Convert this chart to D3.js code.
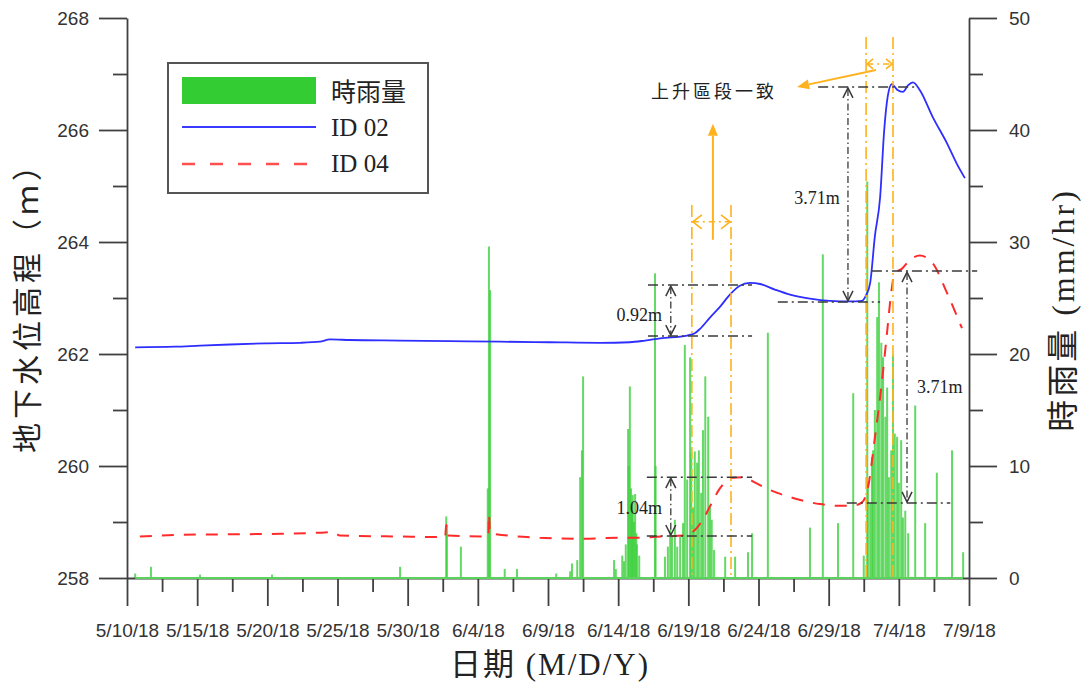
<!DOCTYPE html>
<html><head><meta charset="utf-8">
<script src="https://cdn.jsdelivr.net/npm/d3@7"></script>
<style>body{margin:0;background:#fff} svg{display:block}</style>
</head><body>
<svg id="c" width="1081" height="684"></svg>
<script>
// ---------- data ----------
const xTickLabels = ["5/10/18","5/15/18","5/20/18","5/25/18","5/30/18","6/4/18","6/9/18","6/14/18","6/19/18","6/24/18","6/29/18","7/4/18","7/9/18"];
const yLeftTicks = [258,260,262,264,266,268];
const yLeftMinor = [259,261,263,265,267];
const yRightTicks = [0,10,20,30,40,50];
const yRightMinor = [5,15,25,35,45];

const rainTime = ["5/10 14","5/11 17","5/15 05","5/20 08","5/29 11","6/1 18","6/1 19","6/2 19","6/4 17","6/4 19","6/4 21","6/5 22","6/6 19","6/9 14","6/10 14","6/10 17","6/11 02","6/11 07","6/11 10","6/11 12","6/13 17","6/13 20","6/14 07","6/14 10","6/14 13","6/14 17","6/14 18","6/14 20","6/14 22","6/15 00","6/15 01","6/15 03","6/15 05","6/15 07","6/15 08","6/15 12","6/16 15","6/16 16","6/17 08","6/17 13","6/17 17","6/17 20","6/18 01","6/18 05","6/18 10","6/18 15","6/18 18","6/18 22","6/19 03","6/19 05","6/19 08","6/19 11","6/19 15","6/19 18","6/19 22","6/20 01","6/20 05","6/20 10","6/20 13","6/20 16","6/20 20","6/21 15","6/22 08","6/23 06","6/23 13","6/24 16","6/27 16","6/28 14","6/29 16","6/30 18","7/1 12","7/1 18","7/1 19","7/1 23","7/2 02","7/2 04","7/2 07","7/2 11","7/2 14","7/2 18","7/2 21","7/3 01","7/3 04","7/3 07","7/3 11","7/3 14","7/3 17","7/3 21","7/4 00","7/4 04","7/4 07","7/4 11","7/4 16","7/5 04","7/5 21","7/6 17","7/7 19","7/8 14"];
const rainValue = [0.4,1.0,0.3,0.3,1.0,5.5,4.7,2.8,8.0,29.6,25.7,0.8,0.8,0.4,0.6,1.3,1.6,9.0,11.4,18.0,1.6,0.8,2.0,1.5,3.0,13.3,10.0,17.1,8.0,6.0,7.4,5.0,7.5,4.0,3.0,2.0,27.2,10.0,1.9,2.8,4.3,3.7,5.2,2.8,3.7,4.9,20.8,8.8,19.7,11.2,6.3,11.3,10.3,11.4,7.6,13.2,18.0,14.4,6.3,5.2,2.5,1.9,1.9,2.3,4.0,21.9,4.5,28.9,4.9,16.5,2.0,35.4,8.5,6.7,10.8,11.4,15.0,23.3,26.4,21.0,19.7,14.4,17.0,9.0,11.4,19.9,12.9,12.6,8.5,12.3,5.4,6.0,4.0,15.4,4.9,9.4,11.4,2.3];

const id02Time = ["5/10 14","5/13 10","5/15 05","5/17 08","5/19 20","5/22 08","5/23 18","5/24 11","5/25 21","5/29 11","6/2 00","6/5 14","6/9 03","6/12 17","6/14 20","6/15 22","6/17 00","6/18 22","6/19 11","6/19 20","6/20 13","6/21 06","6/21 23","6/22 16","6/23 09","6/24 03","6/25 04","6/26 06","6/27 16","6/29 02","6/30 12","7/1 09","7/1 16","7/1 23","7/2 07","7/2 16","7/2 23","7/3 05","7/3 12","7/3 21","7/4 07","7/4 16","7/5 00","7/5 12","7/6 10","7/7 10","7/8 03","7/8 17"];
const id02Value = [262.12,262.13,262.15,262.17,262.19,262.20,262.22,262.26,262.25,262.24,262.23,262.22,262.21,262.20,262.21,262.24,262.28,262.33,262.37,262.45,262.65,262.84,263.06,263.22,263.27,263.25,263.15,263.06,262.99,262.95,262.94,262.95,263.05,263.27,264.10,264.80,266.00,266.60,266.82,266.72,266.68,266.80,266.85,266.71,266.23,265.77,265.40,265.14];

const id04Time = ["5/10 22","5/13 19","5/17 08","5/20 22","5/23 18","5/24 16","5/25 04","5/29 11","6/1 16","6/1 18","6/1 19","6/4 18","6/4 19","6/4 21","6/8 10","6/11 07","6/14 03","6/15 13","6/17 00","6/18 18","6/19 15","6/20 04","6/20 16","6/21 06","6/22 04","6/23 01","6/23 15","6/25 08","6/26 11","6/28 09","6/29 19","6/30 21","7/1 09","7/1 19","7/2 07","7/2 19","7/3 04","7/3 11","7/3 17","7/4 05","7/4 19","7/5 12","7/6 10","7/7 10","7/8 12"];
const id04Value = [258.74,258.77,258.78,258.79,258.81,258.82,258.76,258.74,258.73,258.95,258.76,258.74,259.14,258.80,258.72,258.70,258.72,258.72,258.74,258.76,258.90,259.10,259.34,259.60,259.79,259.80,259.72,259.52,259.43,259.32,259.29,259.30,259.35,259.60,260.50,261.50,262.40,263.10,263.45,263.52,263.68,263.76,263.62,263.10,262.46];

// annotation values
const bandStart = ["6/19 06","7/1 16"], bandEnd = ["6/22 01","7/3 14"];
const bandTop = [264.66, 267.66], bandArrow = [264.36, 267.18];
const measArrowT = ["6/17 18","6/17 18","6/30 09","7/4 14"];
const measTopV = [263.23, 259.80, 266.77, 263.48];
const measBotV = [262.32, 258.75, 262.93, 259.34];
const measTopX = [["6/16 03","6/23 13"],["6/16 01","6/23 13"],["6/28 06","7/5 09"],["7/2 02","7/9 14"]];
const measBotX = [["6/16 03","6/23 13"],["6/16 01","6/23 13"],["6/25 09","7/2 16"],["6/30 07","7/7 16"]];
const measLabel = ["0.92m","1.04m","3.71m","3.71m"];
const measLabelT = ["6/17 03","6/17 03","6/29 19","7/5 07"];
const measLabelV = [262.70, 259.25, 264.80, 261.41];
const measLabelAnchor = ["end","end","end","start"];

// ---------- scales ----------
const P = s => d3.timeParse("%m/%d/%Y %H")(s.replace(" ", "/2018 "));
const PT = d3.timeParse("%m/%d/%y");
const tickDates = xTickLabels.map(PT);
const minorDates = tickDates.slice(1).map((d,i)=> new Date((+d + +tickDates[i])/2));

const L = 127, R = 969, T = 18, B = 578;
const x = d3.scaleTime().domain([tickDates[0], tickDates[tickDates.length-1]]).range([L, R]);
const yL = d3.scaleLinear().domain([258, 268]).range([B, T]);
const yR = d3.scaleLinear().domain([0, 50]).range([B, T]);

const svg = d3.select("#c");
const axCol = "#404040";

// ---------- rain bars ----------
const rain = rainTime.map((t,i)=>({t:P(t), v:rainValue[i]}));
svg.append("g").selectAll("rect").data(rain).join("rect")
  .attr("x", d=>x(d.t)-1).attr("width", 2)
  .attr("y", d=>yR(d.v)).attr("height", d=>B-yR(d.v))
  .attr("fill", "#3fcf3f").attr("opacity", 0.8);

// ---------- axes ----------
const fmt = (d,i)=>xTickLabels[i];
svg.append("g").attr("transform", `translate(0,${B})`)
  .call(d3.axisBottom(x).tickValues(tickDates).tickFormat(fmt).tickSize(28).tickSizeOuter(0).tickPadding(18));
svg.append("g").attr("transform", `translate(0,${B})`)
  .call(d3.axisBottom(x).tickValues(minorDates).tickFormat("").tickSize(14).tickSizeOuter(0))
  .select(".domain").remove();
svg.append("g").attr("transform", `translate(${L},0)`)
  .call(d3.axisLeft(yL).tickValues(yLeftTicks).tickFormat(d3.format("d")).tickSize(28).tickSizeOuter(0).tickPadding(10));
svg.append("g").attr("transform", `translate(${L},0)`)
  .call(d3.axisLeft(yL).tickValues(yLeftMinor).tickFormat("").tickSize(14).tickSizeOuter(0))
  .select(".domain").remove();
svg.append("g").attr("transform", `translate(${R},0)`)
  .call(d3.axisRight(yR).tickValues(yRightTicks).tickFormat(d3.format("d")).tickSize(28).tickSizeOuter(0).tickPadding(12));
svg.append("g").attr("transform", `translate(${R},0)`)
  .call(d3.axisRight(yR).tickValues(yRightMinor).tickFormat("").tickSize(14).tickSizeOuter(0))
  .select(".domain").remove();
svg.selectAll(".domain, .tick line").attr("stroke", axCol).attr("stroke-width", 1.8);
svg.selectAll(".tick text").attr("font-family", "'Liberation Sans', Arial, sans-serif")
  .attr("font-size", 19).attr("fill", "#333");

// green zero line of the rainfall series
svg.append("line").attr("x1", x(rain[0].t)).attr("x2", x(rain[rain.length-1].t))
  .attr("y1", yR(0)).attr("y2", yR(0)).attr("stroke", "#5ad35a").attr("stroke-width", 2);

// ---------- lines ----------
const s02 = id02Time.map((t,i)=>({t:P(t), v:id02Value[i]}));
const s04 = id04Time.map((t,i)=>({t:P(t), v:id04Value[i]}));
const line = d3.line().x(d=>x(d.t)).y(d=>yL(d.v)).curve(d3.curveMonotoneX);
svg.append("path").datum(s04).attr("d", line).attr("fill","none")
  .attr("stroke","#ff2b2b").attr("stroke-width",2).attr("stroke-dasharray","12,10");
svg.append("path").datum(s02).attr("d", line).attr("fill","none")
  .attr("stroke","#2e2eff").attr("stroke-width",1.8);

// ---------- annotations ----------
const orange = "#ffb21c";
const ann = svg.append("g");
bandStart.forEach((s,i)=>{
  const xa = x(P(s)), xb = x(P(bandEnd[i])), yt = yL(bandTop[i]), ya = yL(bandArrow[i]);
  [xa, xb].forEach(xx=>ann.append("line").attr("x1",xx).attr("x2",xx).attr("y1",yt).attr("y2",B)
    .attr("stroke",orange).attr("stroke-width",1.6).attr("stroke-dasharray","12,4,2,4"));
  ann.append("line").attr("x1",xa+1).attr("x2",xb-1).attr("y1",ya).attr("y2",ya)
    .attr("stroke",orange).attr("stroke-width",1.5).attr("stroke-dasharray","6,4,2,4");
  const h = i===0 ? 7 : 5, w = i===0 ? 10 : 7;
  ann.append("path").attr("d",`M${xa+w},${ya-h}L${xa+1},${ya}L${xa+w},${ya+h}M${xb-w},${ya-h}L${xb-1},${ya}L${xb-w},${ya+h}`)
    .attr("fill","none").attr("stroke",orange).attr("stroke-width",1.6);
});
function filledArrow(x1,y1,x2,y2){
  const a = Math.atan2(y2-y1, x2-x1), len = 12, wid = 5;
  const bx = x2 - len*Math.cos(a), by = y2 - len*Math.sin(a);
  ann.append("line").attr("x1",x1).attr("y1",y1).attr("x2",bx).attr("y2",by)
    .attr("stroke",orange).attr("stroke-width",2);
  ann.append("path").attr("d",`M${x2},${y2}L${bx + wid*Math.sin(a)},${by - wid*Math.cos(a)}L${bx - wid*Math.sin(a)},${by + wid*Math.cos(a)}Z`)
    .attr("fill",orange);
}
filledArrow(x(P("6/20 18")), yL(264.04), x(P("6/20 18")), yL(266.11));
filledArrow(x(P("7/2 09")), yL(267.07), x(P("6/26 18")), yL(266.77));
ann.append("text").attr("x", x(P("6/20 20"))).attr("y", yL(266.68)).attr("dy","0.35em")
  .attr("text-anchor","middle").attr("font-family","'Noto Sans CJK TC', sans-serif")
  .attr("font-size",18).attr("letter-spacing",3).attr("fill","#222").text("上升區段一致");

// measurement lines
const blk = "#3a3a3a";
measTopV.forEach((tv,i)=>{
  const ax = x(P(measArrowT[i])), yt = yL(tv), yb = yL(measBotV[i]);
  ann.append("line").attr("x1",x(P(measTopX[i][0]))).attr("x2",x(P(measTopX[i][1])))
    .attr("y1",yt).attr("y2",yt).attr("stroke",blk).attr("stroke-width",1.5).attr("stroke-dasharray","10,4,2,4");
  ann.append("line").attr("x1",x(P(measBotX[i][0]))).attr("x2",x(P(measBotX[i][1])))
    .attr("y1",yb).attr("y2",yb).attr("stroke",blk).attr("stroke-width",1.5).attr("stroke-dasharray","10,4,2,4");
  ann.append("line").attr("x1",ax).attr("x2",ax).attr("y1",yt+2).attr("y2",yb-2)
    .attr("stroke",blk).attr("stroke-width",1.3).attr("stroke-dasharray","7,3,1.5,3");
  ann.append("path").attr("d",`M${ax-5},${yt+11}L${ax},${yt+1}L${ax+5},${yt+11}M${ax-5},${yb-11}L${ax},${yb-1}L${ax+5},${yb-11}`)
    .attr("fill","none").attr("stroke",blk).attr("stroke-width",1.5);
  ann.append("text").attr("x", x(P(measLabelT[i]))).attr("y", yL(measLabelV[i])).attr("dy","0.35em")
    .attr("text-anchor", measLabelAnchor[i]).attr("font-family","'Liberation Serif', serif")
    .attr("font-size",18).attr("fill","#222").text(measLabel[i]);
});

// ---------- titles ----------
svg.append("text").attr("transform","translate(38,300) rotate(-90)").attr("text-anchor","middle")
  .attr("font-family","'Noto Sans CJK TC', sans-serif").attr("font-size",30).attr("letter-spacing",4)
  .attr("fill","#222").text("地下水位高程（ｍ）");
svg.append("text").attr("transform","translate(1074,310) rotate(-90)").attr("text-anchor","middle")
  .attr("font-family","'Liberation Serif', 'Noto Sans CJK TC', serif").attr("font-size",32)
  .attr("letter-spacing",3).attr("fill","#222").text("時雨量 (mm/hr)");
svg.append("text").attr("x",550).attr("y",675).attr("text-anchor","middle")
  .attr("font-family","'Liberation Serif', 'Noto Sans CJK TC', serif").attr("font-size",31)
  .attr("letter-spacing",2).attr("fill","#222").text("日期 (M/D/Y)");

// ---------- legend ----------
const lg = svg.append("g");
lg.append("rect").attr("x",168).attr("y",63).attr("width",260).attr("height",130)
  .attr("fill","#fff").attr("stroke","#555").attr("stroke-width",2);
lg.append("rect").attr("x",182).attr("y",77).attr("width",134).attr("height",27).attr("fill","#33cc33");
lg.append("line").attr("x1",182).attr("x2",316).attr("y1",127).attr("y2",127).attr("stroke","#3a3aff").attr("stroke-width",1.8);
lg.append("line").attr("x1",182).attr("x2",310).attr("y1",164).attr("y2",164).attr("stroke","#ff5050")
  .attr("stroke-width",2.5).attr("stroke-dasharray","13,15");
const legNames = ["時雨量","ID 02","ID 04"], legY = [92,127,163];
legNames.forEach((n,i)=>lg.append("text").attr("x",331).attr("y",legY[i]).attr("dy","0.35em")
  .attr("font-family","'Liberation Serif', 'Noto Sans CJK TC', serif").attr("font-size",25)
  .attr("fill","#222").text(n));
</script>
</body></html>
